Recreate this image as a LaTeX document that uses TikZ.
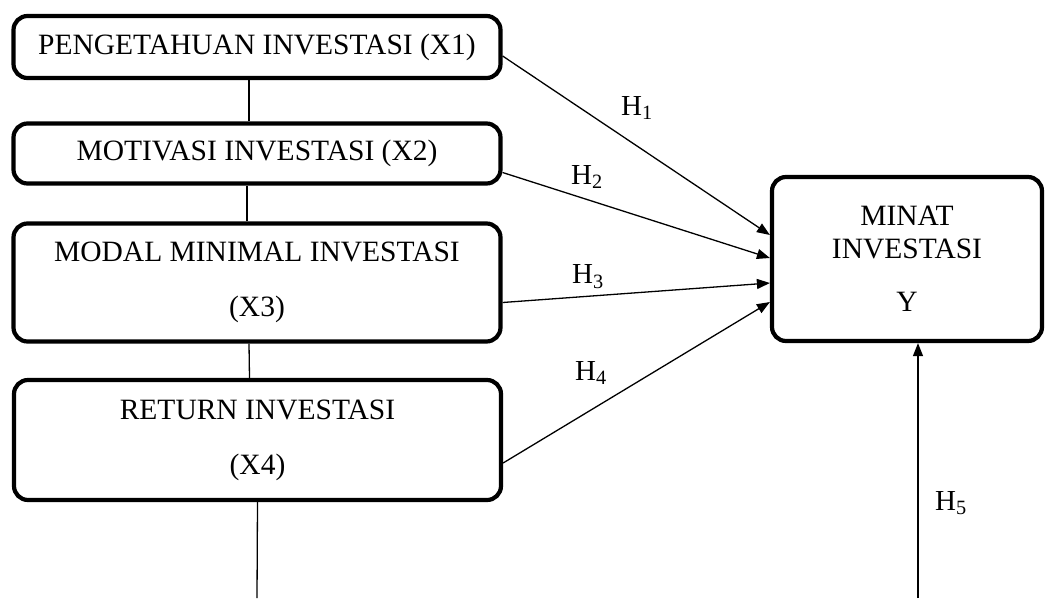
\documentclass[tikz,border=0pt]{standalone}
\usepackage{fontspec}
\setmainfont{Liberation Serif}
\usetikzlibrary{positioning}
\usetikzlibrary{arrows.meta}

\begin{document}
\begin{tikzpicture}[x=1pt, y=-1pt,
    varbox/.style={draw, line width=4.2pt, rounded corners=14pt, minimum width=487pt,
      align=center, inner sep=0pt, font=\fontsize{29.5}{55}\selectfont},
    link/.style={line width=1.3pt},
    hyp/.style={line width=1.3pt, -{Triangle[length=13pt, width=10pt]}},
    hlabel/.style={font=\fontsize{29}{29}\selectfont}]
    \useasboundingbox (0, 0) rectangle (1046, 598);

    \node(x1) [varbox, minimum height=62pt] at (257, 47) {PENGETAHUAN INVESTASI (X1)};
    \node(x2) [varbox, minimum height=60pt] at (257, 153.5) {MOTIVASI INVESTASI (X2)};
    \node(x3) [varbox, minimum height=118pt] at (257, 282.5) {MODAL MINIMAL INVESTASI \\ (X3)};
    \node(x4) [varbox, minimum height=120pt] at (257.5, 440) {RETURN INVESTASI \\ (X4)};

    \node(minat) [varbox, minimum width=270pt, minimum height=164pt,
      font=\fontsize{29.5}{33}\selectfont] at (907, 259) {MINAT \\ INVESTASI \\[20pt] Y};

    \draw[link] ([xshift=-8pt]x1.south) -- ([xshift=-8pt]x2.north);
    \draw[link] ([xshift=-10pt]x2.south) -- ([xshift=-10pt]x3.north);
    \draw[link] ([xshift=-8pt]x3.south) -- ([xshift=-8pt]x4.north);

    \coordinate(down) at (257, 598);
    \coordinate(up) at (918, 598);
    \draw[link] (x4.south) -- (down);

    \draw[hyp] ([yshift=-9pt]x1.east) -- ([yshift=24pt]minat.west);
    \draw[hyp] ([yshift=-19pt]x2.east) -- ([yshift=1pt]minat.west);
    \draw[hyp] ([yshift=-20pt]x3.east) -- ([yshift=-24pt]minat.west);
    \draw[hyp] ([yshift=-23pt]x4.east) -- ([yshift=-43pt]minat.west);
    \draw[hyp] (up) -- ([xshift=11pt]minat.south);

    \node(h1) [hlabel] at (637, 108) {H\textsubscript{1}};
    \node(h2) [hlabel] at (587, 177) {H\textsubscript{2}};
    \node(h3) [hlabel] at (588, 277) {H\textsubscript{3}};
    \node(h4) [hlabel] at (591, 373) {H\textsubscript{4}};
    \node(h5) [hlabel] at (951, 503) {H\textsubscript{5}};
\end{tikzpicture}
\end{document}
